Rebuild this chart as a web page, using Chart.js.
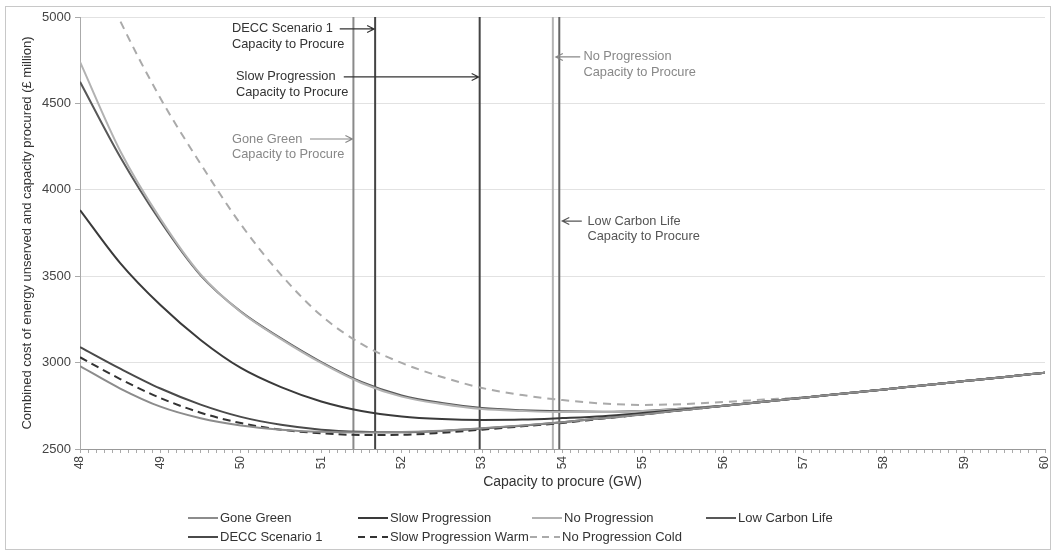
<!DOCTYPE html>
<html>
<head>
<meta charset="utf-8">
<script src="https://cdn.jsdelivr.net/npm/chart.js@4.4.0/dist/chart.umd.min.js"></script>
<style>
    html, body { margin: 0; padding: 0; background: #fff; }
    #wrap { position: relative; width: 1052px; height: 551px; }
</style>
</head>
<body>
<div id="wrap"><canvas id="myChart"></canvas></div>
<script>
// capacity to procure (GW)
const capacity = [48, 48.5, 49, 49.5, 50, 50.5, 51, 51.5, 52, 52.5, 53, 53.5, 54, 54.5, 55, 55.5, 56, 56.5, 57, 57.5, 58, 58.5, 59, 59.5, 60];

// combined cost (£ million)
const goneGreen       = [2980, 2850, 2745, 2678, 2636, 2612, 2600, 2596, 2598, 2605, 2620, 2636, 2655, 2678, 2700, 2725, 2750, 2773, 2797, 2821, 2845, 2869, 2893, 2917, 2942];
const slowProgression = [3883, 3576, 3333, 3131, 2969, 2858, 2775, 2720, 2688, 2673, 2668, 2670, 2679, 2690, 2708, 2728, 2750, 2773, 2797, 2821, 2845, 2869, 2893, 2917, 2942];
const noProgression   = [4740, 4225, 3832, 3510, 3293, 3136, 2998, 2882, 2803, 2760, 2731, 2720, 2714, 2714, 2720, 2734, 2750, 2773, 2797, 2821, 2845, 2869, 2893, 2917, 2942];
const lowCarbonLife   = [4625, 4190, 3818, 3505, 3295, 3140, 3003, 2888, 2810, 2766, 2737, 2724, 2718, 2716, 2720, 2734, 2750, 2773, 2797, 2821, 2845, 2869, 2893, 2917, 2942];
const deccScenario1   = [3090, 2965, 2850, 2757, 2686, 2640, 2612, 2600, 2597, 2604, 2618, 2635, 2655, 2678, 2701, 2725, 2750, 2773, 2797, 2821, 2845, 2869, 2893, 2917, 2942];
const slowProgWarm    = [3031, 2905, 2795, 2710, 2650, 2612, 2591, 2581, 2582, 2594, 2612, 2631, 2651, 2676, 2700, 2725, 2750, 2773, 2797, 2821, 2845, 2869, 2893, 2917, 2942];
const noProgCold      = [5490, 4977, 4530, 4150, 3800, 3508, 3272, 3108, 2998, 2917, 2853, 2812, 2783, 2763, 2755, 2760, 2772, 2786, 2800, 2821, 2845, 2869, 2893, 2917, 2942];

// capacity to procure per scenario: Gone Green, DECC 1, Slow Progression, No Progression, Low Carbon Life
const capacityToProcure = [51.4, 51.67, 52.97, 53.88, 53.96];

const xLabels = [48, 49, 50, 51, 52, 53, 54, 55, 56, 57, 58, 59, 60];
const yTicks = [2500, 3000, 3500, 4000, 4500, 5000];

const FONT = "'Liberation Sans', Arial, sans-serif";

function pts(arr) {
    return capacity.map((c, i) => ({ x: c, y: arr[i] }));
}

function curva(label, arr, color, dash) {
    return {
        label: label,
        data: pts(arr),
        borderColor: color,
        backgroundColor: color,
        borderWidth: 2,
        borderDash: dash || [],
        pointRadius: 0,
        cubicInterpolationMode: 'monotone',
        clip: 0,
        enLeyenda: true,
    };
}

function vertical(x, color) {
    return {
        label: '',
        data: [{ x: x, y: 2500 }, { x: x, y: 5000 }],
        borderColor: color,
        borderWidth: 2,
        pointRadius: 0,
        tension: 0,
        enLeyenda: false,
    };
}

const lineColors = ['#8a8a8a', '#444444', '#444444', '#b4b4b4', '#666666'];

// text notes next to the vertical lines (x/y in data units)
const notas = [
    { text: ['DECC Scenario 1', 'Capacity to Procure'], color: '#333', x: 49.89, y: 4931, from: 51.23, line: 1, side: 'right' },
    { text: ['Slow Progression', 'Capacity to Procure'], color: '#333', x: 49.94, y: 4653, from: 51.28, line: 2, side: 'right' },
    { text: ['Gone Green', 'Capacity to Procure'], color: '#888', x: 49.89, y: 4294, from: 50.86, line: 0, side: 'right' },
    { text: ['No Progression', 'Capacity to Procure'], color: '#888', x: 54.26, y: 4769, from: 54.22, line: 3, side: 'left' },
    { text: ['Low Carbon Life', 'Capacity to Procure'], color: '#555', x: 54.31, y: 3819, from: 54.24, line: 4, side: 'left' },
];

const slots = [[188, 518], [358, 518], [532, 518], [706, 518], [188, 537], [358, 537], [530, 537]];

const extras = {
    id: 'extras',
    beforeDraw(chart) {
        const c = chart.ctx;
        c.save();
        c.fillStyle = '#fff';
        c.fillRect(0, 0, chart.width, chart.height);
        c.strokeStyle = '#c8c8c8';
        c.lineWidth = 1;
        c.strokeRect(5.5, 6.5, chart.width - 7, chart.height - 8);
        c.restore();
    },
    afterDraw(chart) {
        const c = chart.ctx;
        const xs = chart.scales.x, ys = chart.scales.y;
        c.save();
        c.font = '12.8px ' + FONT;
        c.textBaseline = 'middle';
        notas.forEach(n => {
            const tx = xs.getPixelForValue(n.x);
            const ty = ys.getPixelForValue(n.y);
            c.fillStyle = n.color;
            c.textAlign = 'left';
            n.text.forEach((t, i) => c.fillText(t, tx, ty + i * 15.5));
            const lx = xs.getPixelForValue(capacityToProcure[n.line]);
            const x0 = xs.getPixelForValue(n.from);
            const tip = n.side === 'right' ? lx - 1 : lx + 3;
            const dir = n.side === 'right' ? 1 : -1;
            c.strokeStyle = n.color;
            c.lineWidth = 1.2;
            c.beginPath();
            c.moveTo(x0, ty);
            c.lineTo(tip, ty);
            c.moveTo(tip - dir * 7, ty - 3.5);
            c.lineTo(tip, ty);
            c.lineTo(tip - dir * 7, ty + 3.5);
            c.stroke();
        });

        // legend
        c.font = '13px ' + FONT;
        const items = chart.data.datasets.filter(d => d.enLeyenda);
        items.forEach((d, i) => {
            const [lx, ly] = slots[i];
            c.strokeStyle = d.borderColor;
            c.lineWidth = 2;
            c.setLineDash(d.borderDash.length ? [7, 5] : []);
            c.beginPath();
            c.moveTo(lx, ly);
            c.lineTo(lx + 30, ly);
            c.stroke();
            c.setLineDash([]);
            c.fillStyle = '#333';
            c.textAlign = 'left';
            c.fillText(d.label, lx + 32, ly);
        });
        c.restore();
    }
};

const ctx = document.getElementById('myChart').getContext('2d');

new Chart(ctx, {
    type: 'line',
    data: {
        datasets: [
            curva('Gone Green', goneGreen, '#8c8c8c'),
            curva('Slow Progression', slowProgression, '#3a3a3a'),
            curva('No Progression', noProgression, '#b2b2b2'),
            curva('Low Carbon Life', lowCarbonLife, '#585858'),
            curva('DECC Scenario 1', deccScenario1, '#4a4a4a'),
            curva('Slow Progression Warm', slowProgWarm, '#333333', [8, 5]),
            curva('No Progression Cold', noProgCold, '#aaaaaa', [8, 6]),
            ...capacityToProcure.map((v, i) => vertical(v, lineColors[i])),
        ],
    },
    options: {
        responsive: true,
        maintainAspectRatio: false,
        animation: false,
        layout: {
            padding: { top: 17, right: 0, bottom: 0, left: 0 },
        },
        plugins: {
            legend: { display: false },
            tooltip: { enabled: false },
        },
        scales: {
            x: {
                type: 'linear',
                min: 48,
                max: 60,
                afterFit: s => { s.height = 102; s.paddingRight = 7; },
                ticks: {
                    stepSize: 0.1,
                    autoSkip: false,
                    minRotation: 90,
                    maxRotation: 90,
                    padding: 3,
                    color: '#444',
                    font: { size: 12, family: FONT },
                    callback: v => {
                        const r = Math.round(v);
                        return (Math.abs(v - r) < 1e-6 && xLabels.includes(r)) ? String(r) : '';
                    },
                },
                grid: {
                    drawOnChartArea: false,
                    tickLength: 4,
                    tickColor: '#aaa',
                },
                border: { color: '#999' },
                title: {
                    display: true,
                    text: 'Capacity to procure (GW)',
                    color: '#333',
                    font: { size: 14, family: FONT },
                    padding: { top: 4, bottom: 60 },
                },
            },
            y: {
                min: 2500,
                max: 5000,
                afterFit: s => { s.width = 80; },
                afterBuildTicks: s => { s.ticks = yTicks.map(v => ({ value: v })); },
                ticks: {
                    padding: 4,
                    color: '#444',
                    font: { size: 13, family: FONT },
                    callback: v => String(v),
                },
                grid: {
                    color: '#e2e2e2',
                    tickLength: 5,
                    tickColor: '#aaa',
                },
                border: { color: '#aaa' },
                title: {
                    display: true,
                    text: 'Combined cost of energy unserved and capacity procured (£ million)',
                    color: '#333',
                    font: { size: 13, family: FONT },
                    padding: { top: 20, bottom: 0 },
                },
            },
        },
    },
    plugins: [extras],
});
</script>
</body>
</html>
